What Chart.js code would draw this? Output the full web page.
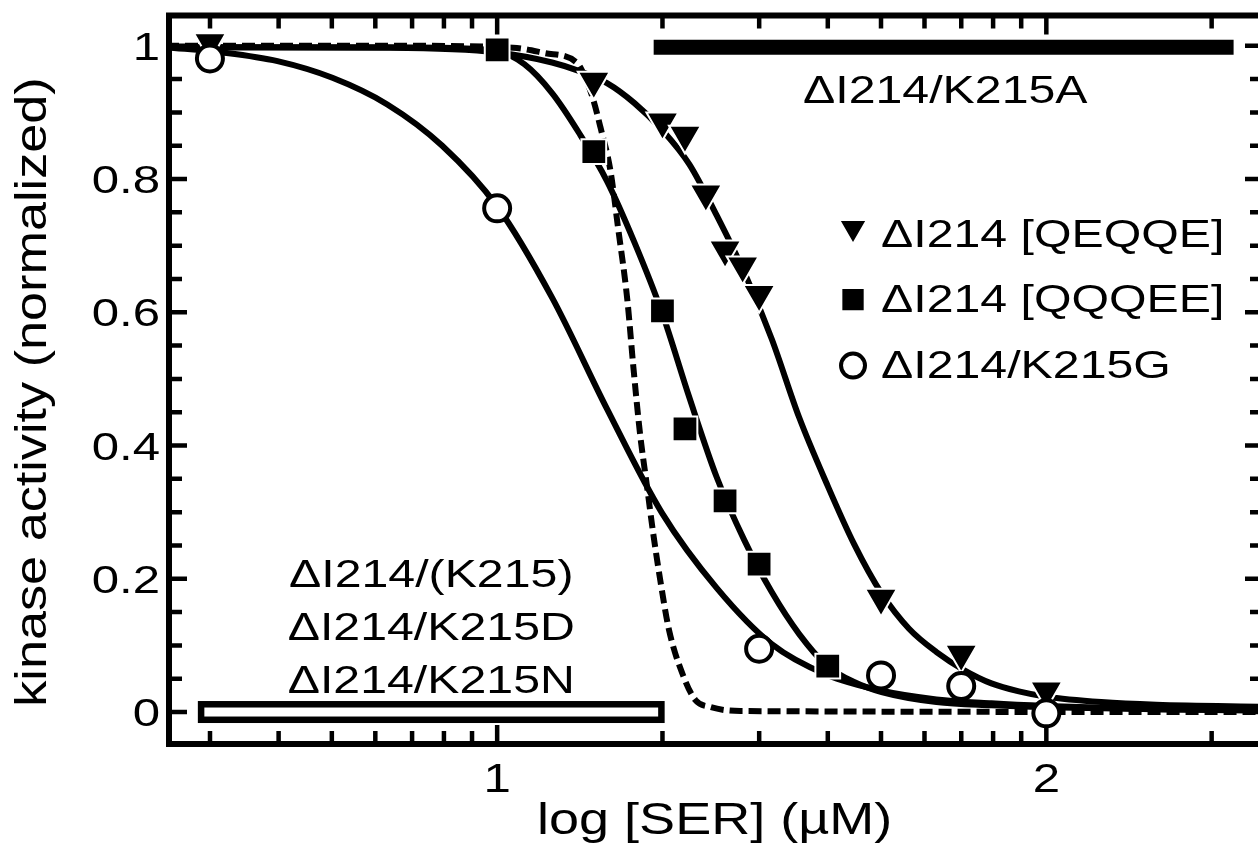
<html>

<head>
    <title>kinase activity vs log [SER]</title>
    <style>
        html,
        body {
            margin: 0;
            overflow: hidden;
            background: #fff;
        }

        canvas {
            display: block;
        }
    </style>
</head>

<body>
    <canvas id="chart" width="1266" height="844"></canvas>

    <script src="https://cdn.jsdelivr.net/npm/chart.js@4.4.0/dist/chart.umd.min.js"></script>
    <script>
        // x = log [SER] (uM), y = kinase activity (normalized)

        // measured points
        var qeqqe_x = [0.477, 1.176, 1.301, 1.342, 1.380, 1.415, 1.447, 1.477, 1.699, 1.845, 2.0]
        var qeqqe_y = [1.005, 0.947, 0.886, 0.866, 0.778, 0.694, 0.670, 0.627, 0.171, 0.087, 0.032]

        var qqqee_x = [1.0, 1.176, 1.301, 1.342, 1.415, 1.477, 1.602]
        var qqqee_y = [0.994, 0.841, 0.602, 0.425, 0.317, 0.222, 0.069]

        var k215g_x = [0.477, 1.0, 1.477, 1.699, 1.845, 2.0]
        var k215g_y = [0.981, 0.756, 0.095, 0.055, 0.039, -0.002]

        // fitted curves
        var qeqqe_fit_x = [0.397, 0.8, 1.0, 1.1, 1.15, 1.2, 1.25, 1.3, 1.35, 1.4, 1.45, 1.5, 1.55, 1.6, 1.65, 1.7, 1.75, 1.8, 1.85, 1.9, 1.95, 2.0, 2.1, 2.2, 2.4]
        var qeqqe_fit_y = [0.998, 0.997, 0.990, 0.975, 0.962, 0.944, 0.914, 0.874, 0.822, 0.745, 0.660, 0.560, 0.442, 0.343, 0.252, 0.178, 0.125, 0.090, 0.063, 0.043, 0.031, 0.023, 0.015, 0.011, 0.008]

        var qqqee_fit_x = [0.397, 0.8, 0.9, 1.0, 1.05, 1.1, 1.15, 1.2, 1.25, 1.3, 1.35, 1.4, 1.45, 1.5, 1.55, 1.6, 1.65, 1.7, 1.8, 1.9, 2.0, 2.2, 2.4]
        var qqqee_fit_y = [0.998, 0.998, 0.997, 0.992, 0.972, 0.929, 0.868, 0.797, 0.705, 0.600, 0.472, 0.352, 0.258, 0.180, 0.117, 0.070, 0.045, 0.030, 0.015, 0.010, 0.007, 0.004, 0.003]

        var k215g_fit_x = [0.397, 0.5, 0.6, 0.7, 0.8, 0.9, 1.0, 1.1, 1.2, 1.3, 1.4, 1.5, 1.6, 1.7, 1.8, 1.9, 2.0, 2.2, 2.4]
        var k215g_fit_y = [0.998, 0.990, 0.977, 0.952, 0.912, 0.850, 0.759, 0.622, 0.455, 0.299, 0.186, 0.102, 0.056, 0.032, 0.019, 0.013, 0.009, 0.004, 0.002]

        var dashed_fit_x = [0.397, 0.823, 1.029, 1.087, 1.146, 1.162, 1.175, 1.188, 1.206, 1.220, 1.237, 1.248, 1.260, 1.273, 1.284, 1.297, 1.313, 1.339, 1.361, 1.388, 1.443, 2.4]
        var dashed_fit_y = [1.0, 1.0, 0.997, 0.989, 0.974, 0.949, 0.919, 0.878, 0.814, 0.728, 0.619, 0.518, 0.419, 0.338, 0.269, 0.198, 0.123, 0.054, 0.018, 0.0075, 0.0015, 0.0]

        // constant-activity mutants
        var k215a_x = [1.285, 2.341]
        var k215a_y = [0.998, 0.998]
        var inactive_x = [0.455, 1.305]
        var inactive_y = [0, 0]

        // axes
        var x_major = [1, 2]
        var x_labels = ['1', '2']
        var x_minor = [3, 4, 5, 6, 7, 8, 9, 20, 30, 40, 50, 60, 70, 80, 90, 200].map(Math.log10)
        var y_major = [0, 0.2, 0.4, 0.6, 0.8, 1]
        var y_labels = ['0', '0.2', '0.4', '0.6', '0.8', '1']
        var y_minor = [0.05, 0.1, 0.15, 0.25, 0.3, 0.35, 0.45, 0.5, 0.55, 0.65, 0.7, 0.75, 0.85, 0.9, 0.95]

        var series_names = ['\u0394I214 [QEQQE]', '\u0394I214 [QQQEE]', '\u0394I214/K215G']
        var k215a_name = '\u0394I214/K215A'
        var inactive_names = ['\u0394I214/(K215)', '\u0394I214/K215D', '\u0394I214/K215N']

        function pts(xs, ys) {
            return xs.map((v, i) => ({ x: v, y: ys[i] }))
        }

        function text(ctx, s, px, py, size, hs, align, rot) {
            ctx.save()
            ctx.translate(px, py)
            if (rot) ctx.rotate(rot)
            ctx.scale(hs, 1)
            ctx.font = size + 'px "Liberation Sans", Arial, sans-serif'
            ctx.textAlign = align
            ctx.textBaseline = 'alphabetic'
            ctx.fillStyle = '#000'
            ctx.fillText(s, 0, 0)
            ctx.restore()
        }

        function marker(ctx, style, px, py) {
            ctx.save()
            if (style == 'circle') {
                ctx.fillStyle = '#fff'
                ctx.strokeStyle = '#000'
                ctx.lineWidth = 4
                Chart.helpers.drawPoint(ctx, { pointStyle: 'circle', radius: 12, borderWidth: 4, rotation: 0 }, px, py)
            } else {
                ctx.fillStyle = '#000'
                ctx.strokeStyle = '#fff'
                ctx.lineWidth = 2
                var r = style == 'triangle' ? 16 : 16.5
                Chart.helpers.drawPoint(ctx, { pointStyle: style, radius: r, borderWidth: 2, rotation: style == 'triangle' ? 180 : 0 }, px, py)
            }
            ctx.restore()
        }

        var framePlugin = {
            id: 'frame',
            afterDatasetsDraw(chart) {
                var ctx = chart.ctx, x = chart.scales.x, y = chart.scales.y
                // open bar for the inactive mutants
                var x0 = x.getPixelForValue(inactive_x[0]), x1 = x.getPixelForValue(inactive_x[1])
                var yc = y.getPixelForValue(inactive_y[0])
                ctx.save()
                ctx.lineWidth = 6.5
                ctx.strokeStyle = '#000'
                ctx.fillStyle = '#fff'
                ctx.fillRect(x0, yc - 11, x1 - x0, 22)
                ctx.strokeRect(x0 + 3.25, yc - 11 + 3.25, x1 - x0 - 6.5, 22 - 6.5)
                ctx.restore()
            },
            afterDraw(chart) {
                var ctx = chart.ctx, a = chart.chartArea, x = chart.scales.x, y = chart.scales.y
                ctx.save()
                ctx.strokeStyle = '#000'
                ctx.lineWidth = 6
                ctx.strokeRect(a.left + 3, a.top + 3, a.right - a.left - 6, a.bottom - a.top - 6)

                // inward ticks on all four sides
                ctx.lineWidth = 4.5
                ctx.beginPath()
                var inL = a.left + 5, inR = a.right - 5, inT = a.top + 5, inB = a.bottom - 5
                x_minor.forEach(v => {
                    var p = x.getPixelForValue(v)
                    ctx.moveTo(p, inB); ctx.lineTo(p, inB - 11)
                    ctx.moveTo(p, inT); ctx.lineTo(p, inT + 11)
                })
                x_major.forEach(v => {
                    var p = x.getPixelForValue(v)
                    ctx.moveTo(p, inB); ctx.lineTo(p, inB - 17)
                    ctx.moveTo(p, inT); ctx.lineTo(p, inT + 17)
                })
                y_minor.forEach(v => {
                    var p = y.getPixelForValue(v)
                    ctx.moveTo(inL, p); ctx.lineTo(inL + 11, p)
                    ctx.moveTo(inR, p); ctx.lineTo(inR - 11, p)
                })
                y_major.forEach(v => {
                    var p = y.getPixelForValue(v)
                    ctx.moveTo(inL, p); ctx.lineTo(inL + 16, p)
                    ctx.moveTo(inR, p); ctx.lineTo(inR - 16, p)
                })
                ctx.stroke()
                ctx.restore()

                // tick labels
                y_major.forEach((v, i) => {
                    text(ctx, y_labels[i], a.left - 6, y.getPixelForValue(v) + 14, 39, 1.26, 'right')
                })
                x_major.forEach((v, i) => {
                    text(ctx, x_labels[i], x.getPixelForValue(v), a.bottom + 45, 41, 1.2, 'center')
                })

                // axis titles
                text(ctx, 'log [SER] (\u00b5M)', x.getPixelForValue(1.396), 834, 45, 1.2, 'center')
                text(ctx, 'kinase activity (normalized)', 46, 392, 45, 1.16, 'center', -Math.PI / 2)

                // annotations
                text(ctx, k215a_name, x.getPixelForValue(1.816), y.getPixelForValue(0.914), 38, 1.27, 'center')
                var base = [0.188, 0.108, 0.0285]
                inactive_names.forEach((s, i) => {
                    text(ctx, s, x.getPixelForValue(0.88), y.getPixelForValue(base[i]), 38, 1.27, 'center')
                })

                // legend
                var styles = ['triangle', 'rect', 'circle']
                var rows = [0.698, 0.601, 0.502]
                var offs = [19, 12, 12]
                series_names.forEach((s, i) => {
                    var py = y.getPixelForValue(rows[i])
                    marker(ctx, styles[i], x.getPixelForValue(1.648), py - offs[i])
                    text(ctx, s, x.getPixelForValue(1.699), py, 38, 1.27, 'left')
                })
            }
        }

        var line = (xs, ys, dash) => ({
            data: pts(xs, ys),
            showLine: true,
            borderColor: '#000',
            borderWidth: 6,
            borderDash: dash || [],
            cubicInterpolationMode: 'monotone',
            pointRadius: 0,
            fill: false,
            order: 3,
        })

        var my_chart = new Chart(document.getElementById('chart'), {
            type: 'scatter',

            data: {
                datasets: [
                    {
                        label: series_names[0],
                        data: pts(qeqqe_x, qeqqe_y),
                        pointStyle: 'triangle',
                        rotation: 180,
                        pointRadius: 18.5,
                        backgroundColor: '#000',
                        borderColor: '#fff',
                        borderWidth: 2,
                        order: 2,
                    },
                    {
                        label: series_names[1],
                        data: pts(qqqee_x, qqqee_y),
                        pointStyle: 'rect',
                        pointRadius: 17.5,
                        backgroundColor: '#000',
                        borderColor: '#fff',
                        borderWidth: 2,
                        order: 1,
                    },
                    {
                        label: series_names[2],
                        data: pts(k215g_x, k215g_y),
                        pointStyle: 'circle',
                        pointRadius: 13,
                        backgroundColor: '#fff',
                        borderColor: '#000',
                        borderWidth: 4,
                        order: 0,
                    },
                    line(qeqqe_fit_x, qeqqe_fit_y),
                    line(qqqee_fit_x, qqqee_fit_y),
                    line(k215g_fit_x, k215g_fit_y),
                    line(dashed_fit_x, dashed_fit_y, [13, 6]),
                    {
                        label: k215a_name,
                        data: pts(k215a_x, k215a_y),
                        showLine: true,
                        borderColor: '#000',
                        borderWidth: 15,
                        borderCapStyle: 'butt',
                        pointRadius: 0,
                        order: 3,
                    },
                ]
            },

            options: {
                responsive: false,
                maintainAspectRatio: false,
                animation: false,
                devicePixelRatio: 1,
                events: [],
                layout: { autoPadding: false, padding: { top: 12.5, left: 0, right: 0, bottom: 0 } },
                plugins: {
                    legend: { display: false },
                    tooltip: { enabled: false },
                },
                scales: {
                    x: {
                        type: 'linear',
                        min: 0.397,
                        max: 2.4,
                        grid: { display: false, drawTicks: false },
                        border: { display: false },
                        ticks: { display: false },
                        afterFit: s => { s.height = 97 },
                    },
                    y: {
                        type: 'linear',
                        min: -0.0525,
                        max: 1.05,
                        grid: { display: false, drawTicks: false },
                        border: { display: false },
                        ticks: { display: false },
                        afterFit: s => { s.width = 166 },
                    },
                },
            },

            plugins: [framePlugin],
        });
    </script>
</body>

</html>
